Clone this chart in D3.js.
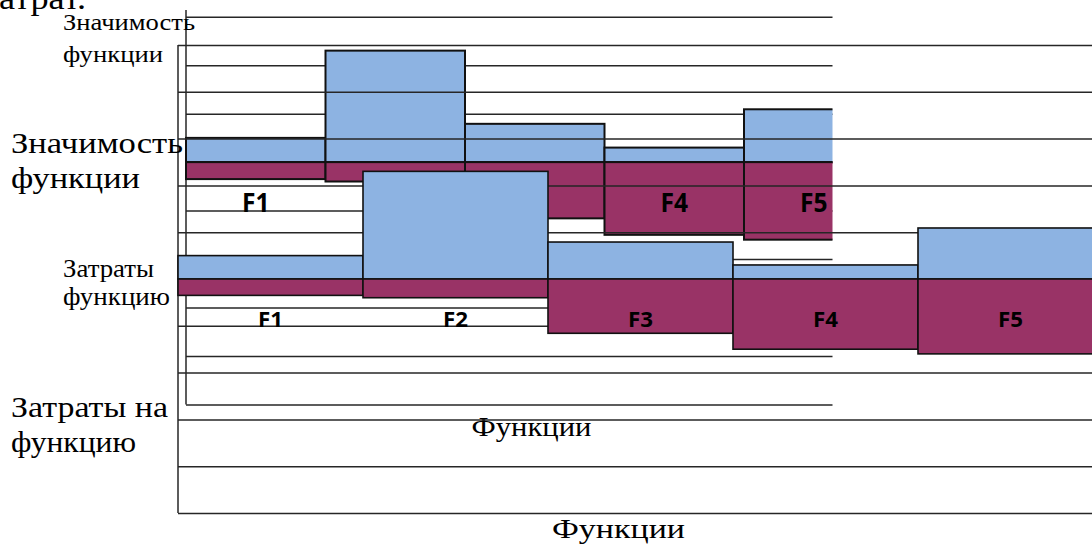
<!DOCTYPE html>
<html>
<head>
<meta charset="utf-8">
<script src="https://cdn.jsdelivr.net/npm/d3@7"></script>
<style>
  html, body { margin: 0; padding: 0; background: #fff; }
  svg { display: block; }
</style>
</head>
<body>
<svg id="chart" width="1092" height="547"></svg>
<script>
// Functions and their two measures: importance (up) and cost (down)
const functions = ["F1", "F2", "F3", "F4", "F5"];
const importance = [0.5, 2.3, 0.79, 0.3, 1.09];
const cost = [0.35, 0.4, 1.16, 1.5, 1.6];

const BLUE = "#8DB3E2";
const PURPLE = "#993366";
const GRID = "#262626";

const svg = d3.select("#chart");
svg.append("rect").attr("width", 1092).attr("height", 547).attr("fill", "#fff");

const rows = functions.map((f, i) => ({ f, v: importance[i], c: cost[i] }));

// Line of document text running above the figure
svg.append("text")
  .attr("x", -1).attr("y", 9)
  .attr("font-family", "Liberation Serif, serif").attr("font-size", 32)
  .attr("textLength", 87).attr("lengthAdjust", "spacingAndGlyphs")
  .text("атрат.");

// Draws one importance/cost chart into a group
function drawChart(g, opt) {
  const x = d3.scaleBand().domain(functions).range(opt.xRange).padding(0);
  const y = d3.scaleLinear().domain(opt.yDomain).range(opt.yRange);
  const gridVals = d3.range(opt.yDomain[0], opt.yDomain[1] + 1);

  // horizontal gridlines
  const grid = d3.axisLeft(y).tickValues(gridVals).tickFormat("")
    .tickSize(-(opt.gridRight - opt.xRange[0]));
  const ga = g.append("g").attr("transform", `translate(${opt.xRange[0]},0)`).call(grid);
  ga.select(".domain").remove();
  ga.selectAll("line").attr("stroke", GRID).attr("stroke-width", 1.5);

  // vertical axis line
  g.append("line")
    .attr("x1", opt.xRange[0]).attr("x2", opt.xRange[0])
    .attr("y1", opt.axisTop).attr("y2", y(opt.yDomain[0]))
    .attr("stroke", GRID).attr("stroke-width", 1.5);

  // importance bars (above zero)
  g.selectAll(".imp").data(rows).join("rect")
    .attr("class", "imp")
    .attr("x", d => x(d.f)).attr("width", x.bandwidth())
    .attr("y", d => y(d.v)).attr("height", d => y(0) - y(d.v))
    .attr("fill", BLUE).attr("stroke", "#111").attr("stroke-width", opt.barStroke);

  // cost bars (below zero)
  g.selectAll(".cost").data(rows).join("rect")
    .attr("class", "cost")
    .attr("x", d => x(d.f)).attr("width", x.bandwidth())
    .attr("y", y(0)).attr("height", d => y(-d.c) - y(0))
    .attr("fill", PURPLE).attr("stroke", "#111").attr("stroke-width", opt.barStroke);

  // function names
  g.selectAll(".lbl").data(rows).join("text")
    .attr("class", "lbl")
    .attr("x", d => x(d.f) + x.bandwidth() / 2)
    .attr("y", y(-1) + 1)
    .attr("text-anchor", "middle")
    .attr("font-family", "Open Sans, sans-serif").attr("font-weight", 700)
    .attr("font-size", opt.labelSize)
    .attr("textLength", opt.labelLen).attr("lengthAdjust", "spacingAndGlyphs")
    .attr("fill", "#000")
    .text(d => d.f);
}

function sideText(x, y, size, len, str) {
  svg.append("text")
    .attr("x", x).attr("y", y)
    .attr("font-family", "Liberation Serif, serif").attr("font-size", size)
    .attr("textLength", len).attr("lengthAdjust", "spacingAndGlyphs")
    .attr("fill", "#000")
    .text(str);
}

// Smaller chart (behind), cut at its right edge
svg.append("clipPath").attr("id", "smallClip")
  .append("rect").attr("x", 0).attr("y", 0).attr("width", 832.5).attr("height", 547);
const small = svg.append("g").attr("clip-path", "url(#smallClip)");
drawChart(small, {
  xRange: [186, 883.5], gridRight: 883.5,
  yDomain: [-5, 3], yRange: [404.5, 16.7],
  axisTop: 10, barStroke: 2,
  labelSize: 26, labelLen: 27.5
});
sideText(63, 29.5, 24, 132, "Значимость");
sideText(63, 61.5, 24, 100, "функции");
sideText(63, 276.7, 25, 91, "Затраты");
sideText(63, 305, 25, 107, "функцию");
sideText(471.5, 436, 28, 120, "Функции");

// Larger chart (in front, transparent background)
const big = svg.append("g");
drawChart(big, {
  xRange: [178, 1103], gridRight: 1103,
  yDomain: [-5, 5], yRange: [513, 45],
  axisTop: 45, barStroke: 1.6,
  labelSize: 22, labelLen: 25
});
sideText(11, 153, 30, 172, "Значимость");
sideText(11, 188, 30, 129, "функции");
sideText(11, 416.5, 30, 157, "Затраты на");
sideText(11, 451.5, 30, 125, "функцию");
sideText(552, 538, 28, 133, "Функции");
</script>
</body>
</html>
